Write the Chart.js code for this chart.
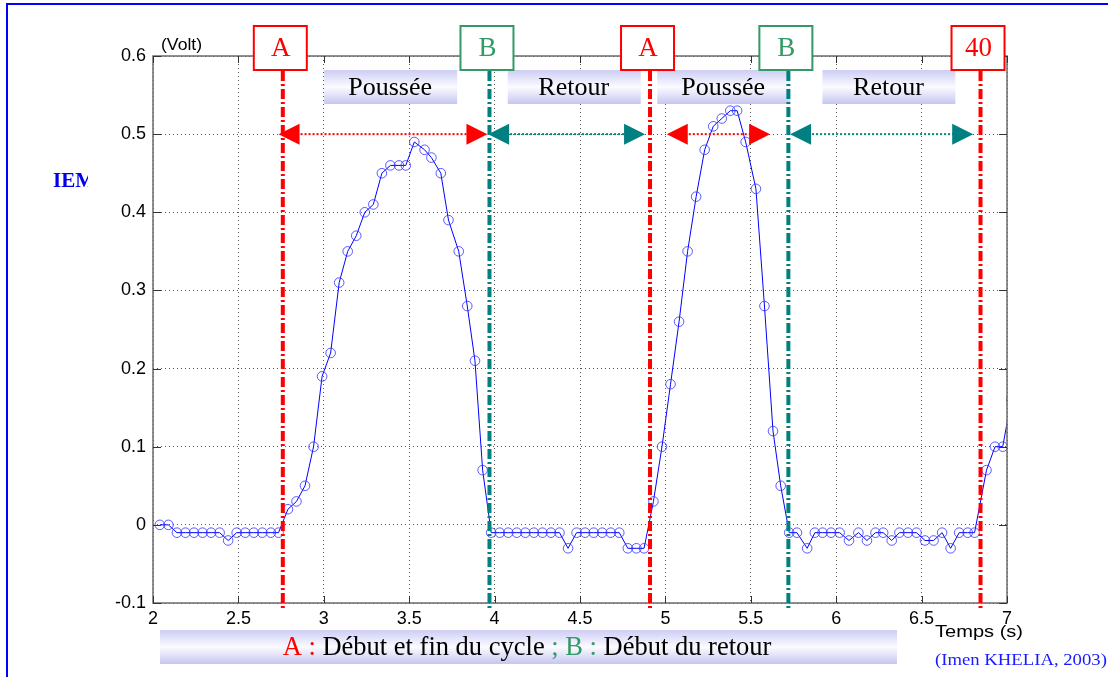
<!DOCTYPE html>
<html>
<head>
<meta charset="utf-8">
<script src="https://cdn.jsdelivr.net/npm/chart.js@4.4.1/dist/chart.umd.min.js"></script>
<style>
  html, body { margin: 0; padding: 0; background: #fff; }
  #wrap { width: 1108px; height: 677px; }
</style>
</head>
<body>
<div id="wrap"><canvas id="emgChart" width="1108" height="677"></canvas></div>
<script>
// EMG signal (Volt) vs time (s)
const times = [
  2.04, 2.09, 2.14, 2.19, 2.24, 2.29, 2.34, 2.39, 2.44, 2.49, 2.54, 2.59, 2.64, 2.69, 2.735,
  2.79, 2.84, 2.89, 2.94, 2.99, 3.04, 3.09, 3.14, 3.19, 3.24, 3.29, 3.34, 3.39, 3.44, 3.48,
  3.53, 3.59, 3.63, 3.685, 3.73, 3.79, 3.84, 3.885, 3.93, 3.98,
  4.03, 4.08, 4.13, 4.18, 4.23, 4.28, 4.33, 4.38, 4.43, 4.48, 4.53, 4.58, 4.63, 4.68, 4.73,
  4.78, 4.83, 4.875,
  4.93, 4.98, 5.03, 5.08, 5.13, 5.18, 5.23, 5.28, 5.33, 5.38, 5.42, 5.47, 5.53, 5.58, 5.63,
  5.675, 5.725,
  5.77, 5.83, 5.875, 5.92, 5.97, 6.02, 6.075, 6.13, 6.18, 6.23, 6.275, 6.325, 6.37, 6.42,
  6.47, 6.52, 6.57, 6.62, 6.67, 6.72, 6.77, 6.81,
  6.88, 6.93, 6.975, 7.025
];
const volts = [
  0, 0, -0.01, -0.01, -0.01, -0.01, -0.01, -0.01, -0.02, -0.01, -0.01, -0.01, -0.01, -0.01, -0.01,
  0.02, 0.03, 0.05, 0.10, 0.19, 0.22, 0.31, 0.35, 0.37, 0.40, 0.41, 0.45, 0.46, 0.46, 0.46,
  0.49, 0.48, 0.47, 0.45, 0.39, 0.35, 0.28, 0.21, 0.07, -0.01,
  -0.01, -0.01, -0.01, -0.01, -0.01, -0.01, -0.01, -0.01, -0.03, -0.01, -0.01, -0.01, -0.01, -0.01, -0.01,
  -0.03, -0.03, -0.03,
  0.03, 0.10, 0.18, 0.26, 0.35, 0.42, 0.48, 0.51, 0.52, 0.53, 0.53, 0.49, 0.43, 0.28, 0.12,
  0.05, -0.01,
  -0.01, -0.03, -0.01, -0.01, -0.01, -0.01, -0.02, -0.01, -0.02, -0.01, -0.01, -0.02, -0.01, -0.01,
  -0.01, -0.02, -0.02, -0.01, -0.03, -0.01, -0.01, -0.01,
  0.07, 0.10, 0.10, 0.16
];

const xTicks = [2, 2.5, 3, 3.5, 4, 4.5, 5, 5.5, 6, 6.5, 7];
const yTicks = [-0.1, 0, 0.1, 0.2, 0.3, 0.4, 0.5, 0.6];

// cycle markers: A = start/end of cycle, B = start of return
const markerTimes = [2.76, 3.97, 4.91, 5.72, 6.845];
const markerLabels = ["A", "B", "A", "B", "40"];
const phaseNames = ["Poussée", "Retour", "Poussée", "Retour"];
// arrows at 0.5 V: start, end, kind
const arrowStarts = [2.735, 3.962, 5.008, 5.73];
const arrowEnds = [3.958, 4.881, 5.613, 6.802];
const arrowKinds = ["A", "B", "A", "B"];

const SANS = "'Liberation Sans', Arial, sans-serif";
const SERIF = "'Liberation Serif', 'Times New Roman', serif";
const RED = "#ff0000";
const TEAL = "#008080";
const GREEN = "#339966";

function lavender(ctx, top, bottom) {
  const g = ctx.createLinearGradient(0, top, 0, bottom);
  g.addColorStop(0, "#cdcdf5");
  g.addColorStop(0.5, "#fbfbff");
  g.addColorStop(1, "#c6c6f2");
  return g;
}

function triangle(ctx, tipX, tipY, dir, color) {
  ctx.fillStyle = color;
  ctx.beginPath();
  ctx.moveTo(tipX, tipY);
  ctx.lineTo(tipX - dir * 21, tipY - 10.5);
  ctx.lineTo(tipX - dir * 21, tipY + 10.5);
  ctx.closePath();
  ctx.fill();
}

// text stretched sideways, like the wide fonts of the original figure
function wideText(ctx, txt, x0, y0, sx) {
  ctx.save();
  ctx.translate(x0, y0);
  ctx.scale(sx, 1);
  ctx.fillText(txt, 0, 0);
  ctx.restore();
}

const overlay = {
  id: "overlay",
  afterDatasetsDraw(chart) {
    const { ctx, chartArea: a, scales: { x, y } } = chart;
    ctx.save();

    // axes box
    ctx.strokeStyle = "#6b6b6b";
    ctx.lineWidth = 1.5;
    ctx.strokeRect(a.left, a.top, a.right - a.left, a.bottom - a.top);

    // inward ticks
    ctx.strokeStyle = "#333";
    ctx.lineWidth = 1;
    ctx.beginPath();
    xTicks.forEach((v) => {
      const px = Math.round(x.getPixelForValue(v)) + 0.5;
      ctx.moveTo(px, a.bottom); ctx.lineTo(px, a.bottom - 7);
      ctx.moveTo(px, a.top); ctx.lineTo(px, a.top + 7);
    });
    yTicks.forEach((v) => {
      const py = Math.round(y.getPixelForValue(v)) + 0.5;
      ctx.moveTo(a.left, py); ctx.lineTo(a.left + 8, py);
      ctx.moveTo(a.right, py); ctx.lineTo(a.right - 8, py);
    });
    ctx.stroke();

    // arrows at 0.5 V
    const ay = y.getPixelForValue(0.5);
    arrowStarts.forEach((t0, i) => {
      const color = arrowKinds[i] === "A" ? RED : TEAL;
      const x0 = x.getPixelForValue(t0);
      const x1 = x.getPixelForValue(arrowEnds[i]);
      ctx.strokeStyle = color;
      ctx.lineWidth = 2;
      ctx.setLineDash([2, 2]);
      ctx.beginPath();
      ctx.moveTo(x0 + 10, ay); ctx.lineTo(x1 - 10, ay);
      ctx.stroke();
      ctx.setLineDash([]);
      triangle(ctx, x0, ay, -1, color);
      triangle(ctx, x1, ay, 1, color);
    });

    // phase labels between markers
    ctx.textAlign = "center";
    ctx.textBaseline = "middle";
    phaseNames.forEach((name, i) => {
      const m0 = x.getPixelForValue(markerTimes[i]);
      const m1 = x.getPixelForValue(markerTimes[i + 1]);
      const cx = (m0 + m1) / 2 + 4;
      ctx.fillStyle = lavender(ctx, 70, 104);
      ctx.fillRect(cx - 66, 70, 133, 34);
      ctx.fillStyle = "#000";
      ctx.font = "26px " + SERIF;
      ctx.fillText(name, cx, 88);
    });

    // vertical marker lines and boxed labels
    markerTimes.forEach((t, i) => {
      const px = x.getPixelForValue(t);
      const color = markerLabels[i] === "B" ? TEAL : RED;
      ctx.strokeStyle = color;
      ctx.lineWidth = 4;
      ctx.setLineDash([10, 3, 2, 3]);
      ctx.beginPath();
      ctx.moveTo(px, 71); ctx.lineTo(px, 610);
      ctx.stroke();
      ctx.setLineDash([]);

      const boxColor = markerLabels[i] === "B" ? GREEN : RED;
      const bx = px - 29;
      ctx.fillStyle = "#fff";
      ctx.fillRect(bx, 26, 53, 44);
      ctx.strokeStyle = boxColor;
      ctx.lineWidth = 2;
      ctx.strokeRect(bx, 26, 53, 44);
      ctx.fillStyle = boxColor;
      ctx.font = "27px " + SERIF;
      ctx.fillText(markerLabels[i], bx + 27, 49);
    });

    // bottom legend
    ctx.fillStyle = lavender(ctx, 630, 664);
    ctx.fillRect(160, 630, 737, 34);
    const parts = [
      ["A :", RED], [" Début et fin du cycle ", "#000"], [";", GREEN],
      [" B :", GREEN], [" Début du retour", "#000"]
    ];
    ctx.font = "26.5px " + SERIF;
    const total = parts.reduce((s, p) => s + ctx.measureText(p[0]).width, 0);
    let tx = 527 - total / 2;
    ctx.textAlign = "left";
    parts.forEach(([txt, col]) => {
      ctx.fillStyle = col;
      ctx.fillText(txt, tx, 648);
      tx += ctx.measureText(txt).width;
    });

    // axis captions
    ctx.fillStyle = "#000";
    ctx.font = "16px " + SANS;
    wideText(ctx, "(Volt)", 161, 46, 1.1);
    ctx.font = "17px " + SANS;
    wideText(ctx, "Temps (s)", 935, 632, 1.18);
    ctx.fillStyle = "#1a1aff";
    ctx.font = "17px " + SERIF;
    wideText(ctx, "(Imen KHELIA, 2003)", 935, 661, 1.1);

    // cut-off side title
    ctx.save();
    ctx.beginPath();
    ctx.rect(40, 160, 48, 40);
    ctx.clip();
    ctx.fillStyle = "#0000ee";
    ctx.font = "bold 21px " + SERIF;
    ctx.fillText("IEMG", 53, 182);
    ctx.restore();

    // page frame
    ctx.strokeStyle = "#0000ff";
    ctx.lineWidth = 2;
    ctx.beginPath();
    ctx.moveTo(1108, 4); ctx.lineTo(7, 4); ctx.lineTo(7, 677);
    ctx.stroke();

    ctx.restore();
  }
};

new Chart(document.getElementById("emgChart"), {
  type: "line",
  data: {
    datasets: [{
      data: times.map((t, i) => ({ x: t, y: volts[i] })),
      borderColor: "#0000ff",
      borderWidth: 1,
      pointRadius: 4.8,
      pointStyle: "circle",
      pointBorderColor: "rgba(50,50,255,0.8)",
      pointBackgroundColor: "rgba(0,0,0,0)",
      pointBorderWidth: 1,
      tension: 0,
      clip: 0
    }]
  },
  options: {
    responsive: false,
    animation: false,
    events: [],
    layout: { padding: { left: 0, top: 56, right: 101, bottom: 0 } },
    plugins: { legend: { display: false }, tooltip: { enabled: false } },
    scales: {
      x: {
        type: "linear",
        min: 2,
        max: 7,
        afterBuildTicks: (s) => { s.ticks = xTicks.map((v) => ({ value: v })); },
        afterFit: (s) => { s.height = 74; },
        ticks: {
          autoSkip: false, maxRotation: 0, padding: 5, color: "#000",
          font: { family: SANS, size: 18 },
          callback: (v) => String(v)
        },
        grid: { color: "#555", lineWidth: 1, drawTicks: false },
        border: { display: false, dash: [1, 3] }
      },
      y: {
        type: "linear",
        min: -0.1,
        max: 0.6,
        afterBuildTicks: (s) => { s.ticks = yTicks.map((v) => ({ value: v })); },
        afterFit: (s) => { s.width = 153; },
        ticks: {
          padding: 7, color: "#000",
          font: { family: SANS, size: 18 },
          callback: (v) => String(v)
        },
        grid: { color: "#555", lineWidth: 1, drawTicks: false },
        border: { display: false, dash: [1, 3] }
      }
    }
  },
  plugins: [overlay]
});
</script>
</body>
</html>
